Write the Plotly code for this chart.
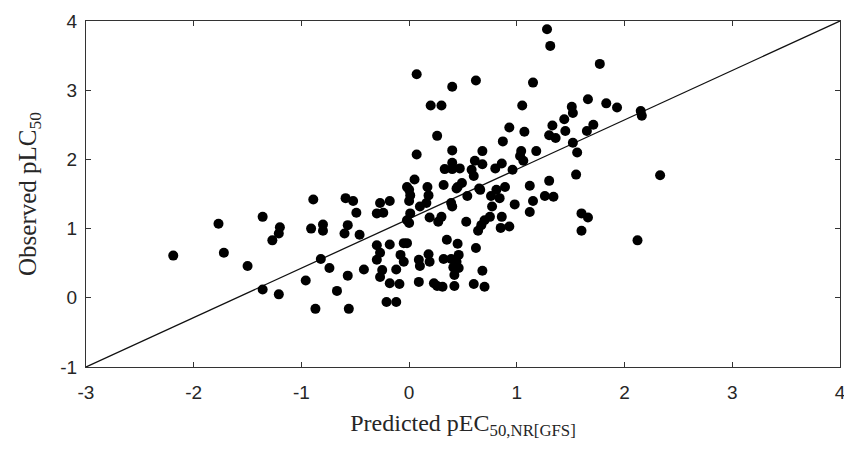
import plotly.graph_objects as go

pred = [-2.19,-1.77,-1.72,-1.50,-1.36,-1.20,-1.21,-1.27,-1.36,-1.21,-0.89,-0.91,-0.80,-0.80,-0.82,-0.74,-0.96,-0.87,-0.67,
        1.28,1.31,0.07,0.40,0.62,1.15,0.20,0.30,1.05,0.26,0.93,1.07,0.87,1.51,1.52,1.44,1.33,1.45,1.30,1.36,1.66,1.65,1.52,1.56,1.55,1.30,
        0.07,0.40,0.68,1.04,1.03,1.06,1.18,0.61,0.68,0.86,0.80,0.96,0.40,0.33,0.40,0.47,0.58,0.60,0.05,-0.02,0.17,0.32,0.45,0.49,0.65,0.89,1.12,
        1.77,1.83,1.93,2.15,2.16,1.71,2.33,1.60,1.66,1.60,2.12,
        0.44,0.00,0.18,0.01,-0.59,-0.52,-0.27,-0.18,-0.24,-0.30,-0.49,0.00,0.01,0.10,0.16,-0.02,0.00,0.19,0.27,0.30,0.39,0.40,0.54,0.66,0.76,0.81,
        0.84,0.77,0.75,0.70,0.67,0.64,0.86,0.85,0.93,0.53,0.98,1.15,1.12,1.26,1.34,
        -0.57,-0.60,-0.46,-0.57,-0.42,-0.56,-0.30,-0.27,-0.30,-0.18,-0.05,-0.02,-0.08,-0.05,-0.12,-0.25,-0.27,-0.18,-0.09,-0.21,-0.12,
        0.09,0.10,0.18,0.19,0.09,0.23,0.26,0.31,0.35,0.32,0.45,0.46,0.44,0.41,0.46,0.42,0.42,0.39,0.62,0.68,0.60,0.70]
obs = [0.61,1.07,0.65,0.46,1.17,1.02,0.93,0.83,0.12,0.05,1.42,1.00,1.06,0.97,0.56,0.43,0.25,-0.16,0.10,
       3.88,3.64,3.23,3.05,3.14,3.11,2.78,2.78,2.78,2.34,2.46,2.40,2.26,2.76,2.67,2.58,2.49,2.41,2.35,2.31,2.87,2.41,2.24,2.10,1.78,1.69,
       2.07,2.13,2.12,2.12,2.05,1.98,2.12,1.98,1.93,1.94,1.87,1.85,1.95,1.86,1.86,1.87,1.85,1.76,1.71,1.60,1.60,1.63,1.60,1.66,1.58,1.60,1.62,
       3.38,2.81,2.75,2.70,2.63,2.50,1.77,1.22,1.16,0.97,0.83,
       1.58,1.56,1.48,1.48,1.44,1.40,1.37,1.40,1.23,1.22,1.23,1.40,1.22,1.32,1.37,1.12,1.08,1.16,1.10,1.17,1.37,1.32,1.47,1.56,1.47,1.56,
       1.44,1.32,1.17,1.12,1.05,0.97,1.17,1.01,1.03,1.10,1.35,1.40,1.24,1.47,1.46,
       1.05,0.93,0.91,0.32,0.41,-0.16,0.76,0.65,0.55,0.77,0.79,0.79,0.62,0.52,0.41,0.40,0.30,0.21,0.20,-0.06,-0.06,
       0.55,0.46,0.63,0.52,0.23,0.21,0.17,0.16,0.84,0.56,0.78,0.62,0.52,0.44,0.43,0.33,0.17,0.56,0.72,0.39,0.20,0.16]
line_x = [-3, 4]
line_y = [-1, 4]

x_ticks = [-3, -2, -1, 0, 1, 2, 3, 4]
y_ticks = [-1, 0, 1, 2, 3, 4]

fig = go.Figure()
fig.add_trace(go.Scatter(x=line_x, y=line_y, mode="lines",
                         line=dict(color="#111111", width=1.3), showlegend=False))
fig.add_trace(go.Scatter(x=pred, y=obs, mode="markers",
                         marker=dict(color="#000000", size=10), showlegend=False))

axis_common = dict(showgrid=False, zeroline=False, showline=True, linecolor="#333333", linewidth=1.3,
                   mirror="ticks", ticks="inside", ticklen=5, tickcolor="#333333", tickwidth=1.2,
                   ticklabeloverflow="allow", automargin=False,
                   tickfont=dict(family="Liberation Sans, Arial", size=19, color="#262626"))
fig.update_xaxes(range=[-3, 4], tickvals=x_ticks, ticktext=[str(v) for v in x_ticks],
                 ticklabelstandoff=8,
                 title=dict(text="Predicted pEC<sub>50,NR[GFS]</sub>",
                            font=dict(family="Liberation Serif, Times New Roman", size=24, color="#262626"),
                            standoff=12), **axis_common)
fig.update_yaxes(range=[-1, 4], tickvals=y_ticks, ticktext=[str(v) for v in y_ticks],
                 ticklabelstandoff=4,
                 title=dict(text="Observed pLC<sub>50</sub>",
                            font=dict(family="Liberation Serif, Times New Roman", size=25, color="#262626"),
                            standoff=16), **axis_common)
fig.update_layout(width=844, height=451, margin=dict(l=86, r=4, t=21, b=84),
                  plot_bgcolor="white", paper_bgcolor="white")
fig.write_html("out.html")
